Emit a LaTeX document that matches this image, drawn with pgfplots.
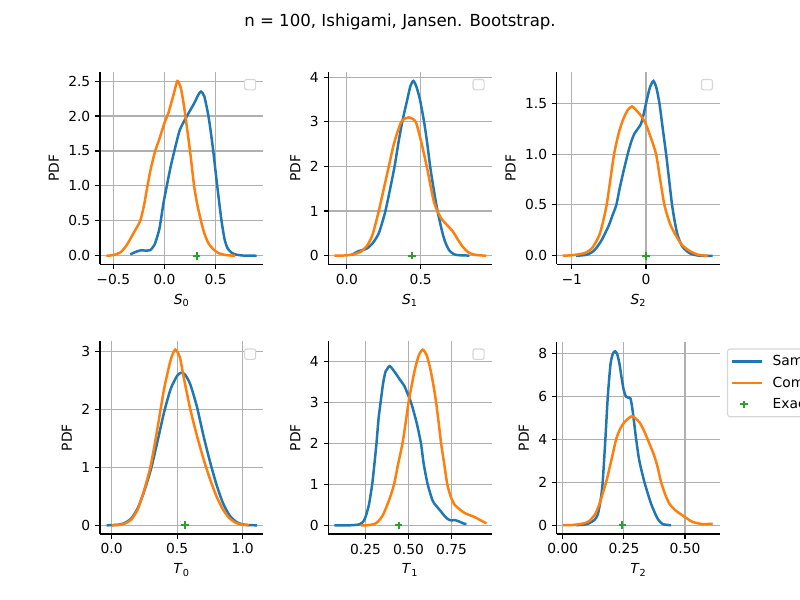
\documentclass[border=0pt]{standalone}
\usepackage{fontspec}
\setmainfont{DejaVu Sans}
\usepackage{pgfplots}
\pgfplotsset{compat=1.18}
\definecolor{mblue}{HTML}{1F77B4}
\definecolor{morange}{HTML}{FF7F0E}
\definecolor{mgreen}{HTML}{2CA02C}
\definecolor{gridgray}{HTML}{B0B0B0}
\definecolor{leggray}{HTML}{D6D6D6}
\pgfplotsset{
  panel/.style={scale only axis, width=1.6316in, height=1.925in, anchor=south west,
    axis x line*=bottom, axis y line*=left, axis line style={-, line width=0.8pt},
    tick align=outside, major tick length=3.5pt, every tick/.style={black, line width=0.8pt},
    grid=major, major grid style={line width=0.8pt, color=gridgray},
    ylabel=PDF, tick label style={font=\fontsize{10}{12}\selectfont},
    label style={font=\fontsize{10}{12}\selectfont},
    /pgf/number format/assume math mode=true},
  sline/.style={color=mblue, line width=1.8pt, smooth, tension=0.4,
    legend image code/.code={\draw[##1] (0cm,0cm) -- (0.75cm,0cm);}},
  cline/.style={color=morange, line width=1.8pt, smooth, tension=0.4,
    legend image code/.code={\draw[##1] (0cm,0cm) -- (0.75cm,0cm);}},
  exact/.style={only marks, mark=+, mark size=2.8pt, color=mgreen, mark options={line width=1.4pt}},
}
\newcommand{\emptyleg}{\node[anchor=north east, draw=leggray, fill=white, rounded corners=1.5pt, line width=0.8pt, minimum width=8pt, minimum height=7.5pt, inner sep=0pt, xshift=-5pt, yshift=-5pt] at (rel axis cs:1,1) {};}
\begin{document}
\begin{tikzpicture}
% S0
\begin{axis}[panel, at={(1.0in,3.355in)}, xmin=-0.63, xmax=0.965, ymin=-0.125, ymax=2.63,
  xtick={-0.5,0,0.5}, xticklabels={−0.5,0.0,0.5}, ytick={0,0.5,1,1.5,2,2.5},
  yticklabels={0.0,0.5,1.0,1.5,2.0,2.5}, xlabel={\textit{S}\textsubscript{0}}]
\addplot[sline] coordinates {(-0.334,0.02) (-0.29,0.05) (-0.237,0.076) (-0.19,0.075) (-0.14,0.08) (-0.10,0.15) (-0.075,0.25) (-0.05,0.38) (-0.036,0.5) (-0.01,0.75) (0.023,1.0) (0.06,1.27) (0.097,1.5) (0.15,1.8) (0.22,2.0) (0.29,2.18) (0.33,2.3) (0.357,2.35) (0.39,2.28) (0.43,2.0) (0.455,1.75) (0.477,1.5) (0.516,1.0) (0.558,0.5) (0.59,0.22) (0.62,0.1) (0.66,0.04) (0.69,0.02) (0.75,0.005) (0.8,0.002) (0.9,0.0)};
\addplot[cline] coordinates {(-0.568,0.0) (-0.5,0.01) (-0.43,0.05) (-0.37,0.15) (-0.3,0.33) (-0.237,0.5) (-0.2,0.72) (-0.166,1.0) (-0.13,1.27) (-0.09,1.5) (-0.05,1.67) (0.0,1.9) (0.04,2.05) (0.088,2.3) (0.127,2.5) (0.16,2.4) (0.185,2.2) (0.205,2.0) (0.25,1.5) (0.29,1.0) (0.32,0.74) (0.357,0.5) (0.39,0.32) (0.43,0.18) (0.48,0.09) (0.526,0.04) (0.6,0.01) (0.69,0.0)};
\addplot[exact] coordinates {(0.3139,0)};
\emptyleg
\end{axis}
% S1
\begin{axis}[panel, at={(3.2842in,3.355in)}, xmin=-0.125, xmax=0.98, ymin=-0.2, ymax=4.12,
  xtick={0,0.5}, xticklabels={0.0,0.5}, ytick={0,1,2,3,4}, yticklabels={0,1,2,3,4},
  xlabel={\textit{S}\textsubscript{1}}]
\addplot[sline] coordinates {(0.034,0.02) (0.08,0.1) (0.136,0.16) (0.18,0.3) (0.216,0.5) (0.24,0.75) (0.261,1.0) (0.29,1.45) (0.323,2.0) (0.35,2.55) (0.375,3.0) (0.409,3.5) (0.43,3.8) (0.45,3.92) (0.47,3.8) (0.495,3.5) (0.523,3.0) (0.545,2.5) (0.564,2.0) (0.59,1.45) (0.614,1.0) (0.648,0.5) (0.67,0.27) (0.693,0.12) (0.72,0.04) (0.75,0.01) (0.83,0.0)};
\addplot[cline] coordinates {(-0.084,0.0) (0.0,0.005) (0.068,0.05) (0.1,0.1) (0.136,0.22) (0.16,0.36) (0.177,0.5) (0.216,1.0) (0.25,1.5) (0.284,2.0) (0.318,2.5) (0.368,3.0) (0.42,3.1) (0.466,3.0) (0.5,2.6) (0.541,2.0) (0.59,1.2) (0.636,0.85) (0.68,0.68) (0.716,0.55) (0.75,0.37) (0.784,0.2) (0.82,0.08) (0.852,0.03) (0.9,0.005) (0.943,0.0)};
\addplot[exact] coordinates {(0.4424,0)};
\emptyleg
\end{axis}
% S2
\begin{axis}[panel, at={(5.5684in,3.355in)}, xmin=-1.2, xmax=0.995, ymin=-0.086, ymax=1.808,
  xtick={-1,0}, xticklabels={−1,0}, ytick={0,0.5,1,1.5}, yticklabels={0.0,0.5,1.0,1.5},
  xlabel={\textit{S}\textsubscript{2}}]
\addplot[sline] coordinates {(-0.94,0.0) (-0.8,0.01) (-0.7,0.05) (-0.6,0.15) (-0.5,0.3) (-0.45,0.4) (-0.40,0.5) (-0.35,0.68) (-0.3,0.84) (-0.247,1.0) (-0.2,1.12) (-0.157,1.2) (-0.1,1.26) (-0.067,1.3) (-0.03,1.4) (0.0,1.5) (0.05,1.65) (0.099,1.72) (0.14,1.65) (0.18,1.5) (0.225,1.25) (0.27,1.0) (0.31,0.75) (0.35,0.5) (0.39,0.32) (0.426,0.2) (0.48,0.1) (0.54,0.05) (0.6,0.02) (0.72,0.0) (0.897,0.0)};
\addplot[cline] coordinates {(-1.12,0.0) (-1.0,0.005) (-0.9,0.015) (-0.81,0.03) (-0.72,0.08) (-0.63,0.2) (-0.58,0.33) (-0.53,0.5) (-0.48,0.75) (-0.43,1.0) (-0.37,1.2) (-0.314,1.33) (-0.25,1.43) (-0.188,1.47) (-0.13,1.43) (-0.06,1.37) (0.0,1.29) (0.07,1.15) (0.135,1.0) (0.19,0.75) (0.247,0.5) (0.32,0.32) (0.40,0.2) (0.48,0.11) (0.58,0.05) (0.7,0.01) (0.83,0.0)};
\addplot[exact] coordinates {(0.0,0)};
\emptyleg
\end{axis}
% T0
\begin{axis}[panel, at={(1.0in,0.66in)}, xmin=-0.089, xmax=1.156, ymin=-0.15, ymax=3.17,
  xtick={0,0.5,1}, xticklabels={0.0,0.5,1.0}, ytick={0,1,2,3}, yticklabels={0,1,2,3},
  xlabel={\textit{T}\textsubscript{0}}]
\addplot[sline] coordinates {(-0.038,0) (0.05,0.01) (0.1,0.04) (0.15,0.12) (0.2,0.3) (0.25,0.6) (0.3,0.97) (0.35,1.45) (0.4,1.95) (0.45,2.35) (0.5,2.58) (0.53,2.63) (0.56,2.6) (0.6,2.43) (0.65,2.05) (0.7,1.55) (0.75,1.1) (0.8,0.7) (0.85,0.38) (0.9,0.17) (0.95,0.06) (1.0,0.015) (1.05,0.003) (1.11,0)};
\addplot[cline] coordinates {(0,0) (0.05,0.005) (0.1,0.03) (0.15,0.1) (0.2,0.28) (0.25,0.62) (0.3,1.05) (0.35,1.68) (0.4,2.35) (0.45,2.85) (0.485,3.03) (0.52,2.9) (0.55,2.55) (0.6,2.0) (0.65,1.55) (0.7,1.15) (0.75,0.8) (0.8,0.5) (0.85,0.27) (0.9,0.12) (0.95,0.04) (1.0,0.01) (1.046,0)};
\addplot[exact] coordinates {(0.5576,0)};
\emptyleg
\end{axis}
% T1
\begin{axis}[panel, at={(3.2842in,0.66in)}, xmin=0.035, xmax=0.982, ymin=-0.21, ymax=4.48,
  xtick={0.25,0.5,0.75}, xticklabels={0.25,0.50,0.75}, ytick={0,1,2,3,4}, yticklabels={0,1,2,3,4},
  xlabel={\textit{T}\textsubscript{1}}]
\addplot[sline] coordinates {(0.07,0.0) (0.15,0.0) (0.21,0.02) (0.235,0.08) (0.25,0.2) (0.27,0.5) (0.289,1.0) (0.302,1.5) (0.314,2.0) (0.326,2.6) (0.338,3.0) (0.352,3.45) (0.367,3.75) (0.39,3.88) (0.405,3.82) (0.426,3.7) (0.45,3.55) (0.475,3.4) (0.514,3.0) (0.547,2.5) (0.572,2.0) (0.588,1.5) (0.611,1.0) (0.64,0.6) (0.66,0.48) (0.68,0.38) (0.705,0.25) (0.729,0.15) (0.75,0.12) (0.768,0.13) (0.79,0.1) (0.817,0.05) (0.836,0.03)};
\addplot[cline] coordinates {(0.225,0.0) (0.27,0.005) (0.31,0.05) (0.335,0.15) (0.357,0.3) (0.39,0.65) (0.416,1.0) (0.44,1.5) (0.465,2.0) (0.485,2.55) (0.5,3.0) (0.52,3.45) (0.537,3.8) (0.56,4.15) (0.582,4.28) (0.605,4.15) (0.627,3.8) (0.645,3.4) (0.66,3.0) (0.675,2.5) (0.689,2.0) (0.707,1.5) (0.725,1.0) (0.745,0.7) (0.768,0.5) (0.8,0.38) (0.826,0.3) (0.855,0.25) (0.885,0.2) (0.92,0.12) (0.953,0.05)};
\addplot[exact] coordinates {(0.4424,0)};
\emptyleg
\end{axis}
% T2
\begin{axis}[panel, at={(5.5684in,0.66in)}, xmin=-0.0245, xmax=0.643, ymin=-0.41, ymax=8.56,
  xtick={0,0.25,0.5}, xticklabels={0.00,0.25,0.50}, ytick={0,2,4,6,8}, yticklabels={0,2,4,6,8},
  xlabel={\textit{T}\textsubscript{2}}, legend cell align=left,
  legend style={at={(1,1)}, anchor=north west, xshift=5pt, yshift=-5pt, draw=leggray,
    line width=0.8pt, fill=white, rounded corners=2pt, font=\fontsize{10}{12}\selectfont,
    row sep=2.5pt, column sep=5pt, inner sep=2.5pt}]
\addplot[sline] coordinates {(0.054,0.0) (0.09,0.03) (0.109,0.1) (0.13,0.25) (0.143,0.5) (0.155,1.2) (0.163,2.0) (0.174,4.0) (0.184,6.0) (0.195,7.5) (0.205,8.0) (0.214,8.1) (0.223,7.95) (0.232,7.5) (0.24,6.9) (0.249,6.3) (0.258,6.0) (0.266,5.95) (0.277,5.9) (0.286,5.3) (0.30,4.0) (0.313,3.0) (0.334,2.0) (0.361,1.0) (0.388,0.3) (0.409,0.05) (0.443,0.0)};
\addlegendentry{Sample}
\addplot[cline] coordinates {(0.0,0.0) (0.04,0.01) (0.068,0.05) (0.09,0.1) (0.109,0.2) (0.125,0.4) (0.136,0.6) (0.15,1.0) (0.177,2.0) (0.198,3.0) (0.218,4.0) (0.235,4.5) (0.252,4.8) (0.283,5.08) (0.313,4.8) (0.33,4.45) (0.347,4.0) (0.372,3.3) (0.388,2.7) (0.402,2.0) (0.42,1.4) (0.436,1.0) (0.46,0.7) (0.484,0.5) (0.51,0.3) (0.531,0.15) (0.572,0.05) (0.6,0.06) (0.613,0.07)};
\addlegendentry{Computed}
\addplot[exact] coordinates {(0.2437,0)};
\addlegendentry{Exact}
\end{axis}
\node[font=\fontsize{12}{14}\selectfont] at (4in,5.78in) {n = 100, Ishigami, Jansen. Bootstrap.};
\pgfresetboundingbox
\useasboundingbox (0,0) rectangle (8in,6in);
\end{tikzpicture}
\end{document}
